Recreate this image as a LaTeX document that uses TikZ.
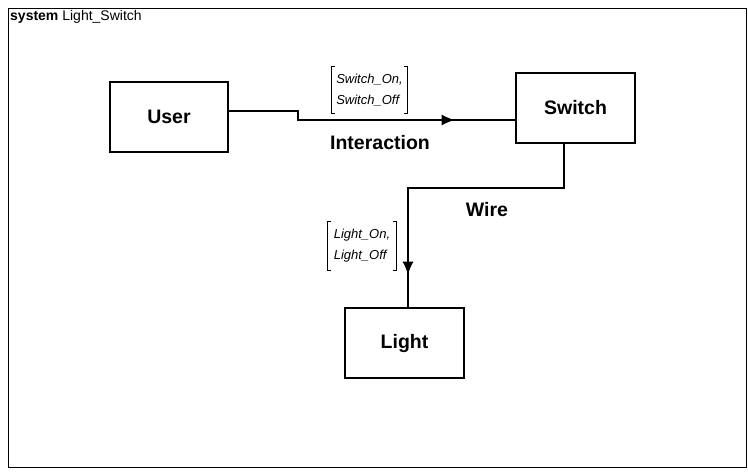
\documentclass[tikz,border=0pt]{standalone}
\usepackage{fontspec}
\setmainfont{Liberation Sans}
\usetikzlibrary{arrows.meta,decorations.markings}
% square brackets on both sides of a signal list node
\newcommand\sigbrackets[1]{%
  \draw[line width=0.9pt] ([xshift=3pt]#1.north west) -- (#1.north west) -- (#1.south west) -- ([xshift=3pt]#1.south west);
  \draw[line width=0.9pt] ([xshift=-3pt]#1.north east) -- (#1.north east) -- (#1.south east) -- ([xshift=-3pt]#1.south east);}
\begin{document}
\begin{tikzpicture}[x=1pt,y=-1pt,
  block/.style={draw,line width=1.2pt,minimum width=119pt,minimum height=70pt,inner sep=0pt,
    font=\fontsize{19.5}{22}\selectfont\bfseries},
  conn/.style={line width=1.2pt},
  midarrow/.style={postaction={decorate},decoration={markings,
    mark=at position #1 with {\arrow{Latex[length=13pt,width=11pt]}}}},
  signals/.style={inner sep=0pt,align=left,font=\fontsize{13}{21}\selectfont\itshape},
  flowlabel/.style={font=\fontsize{19.5}{22}\selectfont\bfseries,inner sep=0pt}]
\useasboundingbox (0,0) rectangle (748,472);
% system frame and its heading
\node[draw,line width=1.2pt,minimum width=738pt,minimum height=459pt,anchor=north west,inner sep=0pt] (frame) at (8,8) {};
\node[anchor=north west,inner sep=0pt,font=\fontsize{14}{16}\selectfont] (title) at (10,10) {\textbf{system} Light\_Switch};
% blocks
\node[block,minimum width=118pt] (user) at (169,117) {User};
\node[block] (switch) at (575.5,108) {Switch};
\node[block] (light) at (404.5,343) {Light};
% Interaction connector
\draw[conn,midarrow=235pt] ([yshift=6pt]user.east) -- (298,111) -- (298,120) -- ([yshift=-12pt]switch.west);
\node[flowlabel] (interaction) at (380,143) {Interaction};
\node[signals,minimum width=75pt,minimum height=46pt] (swsig) at (369.5,90) {Switch\_On,\\Switch\_Off};
\sigbrackets{swsig}
% Wire connector
\draw[conn,midarrow=287pt] ([xshift=-11.5pt]switch.south) -- (564,188) -- (408,188) -- ([xshift=3.5pt]light.north);
\node[flowlabel] (wire) at (487,210) {Wire};
\node[signals,minimum width=68pt,minimum height=48pt] (ltsig) at (362,246) {Light\_On,\\Light\_Off};
\sigbrackets{ltsig}
\end{tikzpicture}
\end{document}
